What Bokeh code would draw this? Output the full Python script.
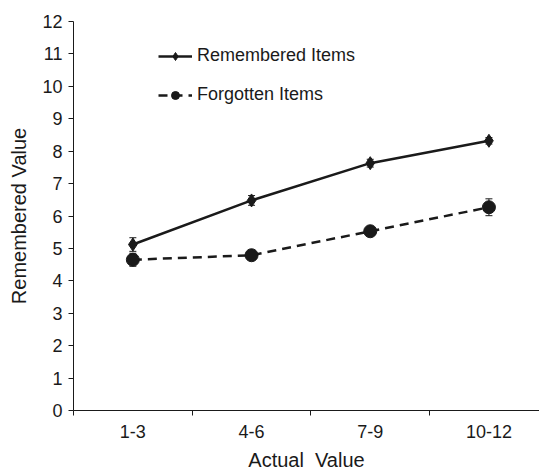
from bokeh.plotting import figure
from bokeh.models import (Range1d, FixedTicker, Whisker, TeeHead, ColumnDataSource,
                          Legend, LegendItem)
from bokeh.embed import file_html
from bokeh.resources import INLINE

# Actual value bins and mean remembered values (with standard errors)
categories = ["1-3", "4-6", "7-9", "10-12"]
remembered = [5.12, 6.48, 7.63, 8.32]
remembered_err = [0.21, 0.15, 0.12, 0.10]
forgotten = [4.65, 4.79, 5.53, 6.27]
forgotten_err = [0.20, 0.08, 0.13, 0.26]
y_ticks = list(range(0, 13))

FONT = "Liberation Sans"
INK = "#1a1a1a"

xs = [i + 0.5 for i in range(len(categories))]

p = figure(width=539, height=473, output_backend="svg", toolbar_location=None,
           x_range=Range1d(0, 3.926), y_range=Range1d(0, 12),
           min_border_left=73, min_border_right=0, min_border_top=21,
           min_border_bottom=61)
p.outline_line_color = None
p.xgrid.visible = False
p.ygrid.visible = False
p.background_fill_color = "white"
p.border_fill_color = "white"

# y axis
p.yaxis.ticker = FixedTicker(ticks=y_ticks)
p.yaxis.axis_label = "Remembered Value"
p.yaxis.axis_label_text_font = FONT
p.yaxis.axis_label_text_font_size = "20px"
p.yaxis.axis_label_text_font_style = "normal"
p.yaxis.axis_label_text_color = INK
p.yaxis.axis_label_standoff = 9
p.yaxis.major_label_text_font = FONT
p.yaxis.major_label_text_font_size = "18px"
p.yaxis.major_label_text_color = INK
p.yaxis.major_label_standoff = 6
p.yaxis.major_tick_out = 5
p.yaxis.major_tick_in = 0
p.yaxis.minor_tick_line_color = None
p.yaxis.axis_line_color = INK
p.yaxis.major_tick_line_color = INK

# x axis: labels at bin centres, tick marks at bin boundaries
p.xaxis.ticker = FixedTicker(ticks=xs, minor_ticks=list(range(len(categories) + 1)))
p.xaxis.major_label_overrides = {x: c for x, c in zip(xs, categories)}
p.xaxis.axis_label = "Actual\u00a0\u00a0Value"
p.xaxis.axis_label_text_font = FONT
p.xaxis.axis_label_text_font_size = "20px"
p.xaxis.axis_label_text_font_style = "normal"
p.xaxis.axis_label_text_color = INK
p.xaxis.axis_label_standoff = 8
p.xaxis.major_label_text_font = FONT
p.xaxis.major_label_text_font_size = "18px"
p.xaxis.major_label_text_color = INK
p.xaxis.major_label_standoff = 9
p.xaxis.major_tick_out = 0
p.xaxis.major_tick_in = 0
p.xaxis.minor_tick_out = 5
p.xaxis.minor_tick_in = 0
p.xaxis.minor_tick_line_color = INK
p.xaxis.axis_line_color = INK

src_r = ColumnDataSource(dict(x=xs, y=remembered,
                              lo=[v - e for v, e in zip(remembered, remembered_err)],
                              hi=[v + e for v, e in zip(remembered, remembered_err)]))
src_f = ColumnDataSource(dict(x=xs, y=forgotten,
                              lo=[v - e for v, e in zip(forgotten, forgotten_err)],
                              hi=[v + e for v, e in zip(forgotten, forgotten_err)]))

for src in (src_r, src_f):
    p.add_layout(Whisker(source=src, base="x", lower="lo", upper="hi",
                         line_color=INK, line_width=1,
                         upper_head=TeeHead(size=7, line_color=INK, line_width=1),
                         lower_head=TeeHead(size=7, line_color=INK, line_width=1)))

l_r = p.line("x", "y", source=src_r, line_color=INK, line_width=2.5)
m_r = p.scatter("x", "y", source=src_r, marker="diamond", size=13,
                fill_color=INK, line_color=INK)
l_f = p.line("x", "y", source=src_f, line_color=INK, line_width=2.5,
             line_dash="9 6")
m_f = p.scatter("x", "y", source=src_f, marker="circle", size=13,
                fill_color=INK, line_color=INK)

legend = Legend(items=[LegendItem(label="Remembered Items", renderers=[l_r, m_r]),
                       LegendItem(label="Forgotten Items", renderers=[l_f, m_f])],
                location=(85, 305), orientation="vertical",
                glyph_width=34, glyph_height=20, label_height=20,
                spacing=18, padding=0, margin=0, label_standoff=5,
                label_text_font=FONT, label_text_font_size="18px",
                label_text_color=INK,
                border_line_color=None, background_fill_alpha=0)
p.add_layout(legend)

open("out.html", "w").write(file_html(p, INLINE))
